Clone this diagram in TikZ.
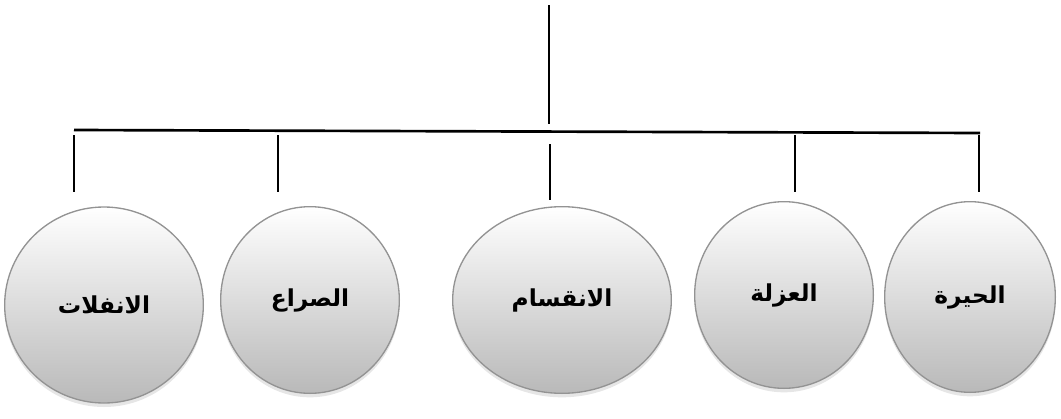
\documentclass[tikz,border=0pt]{standalone}
\usepackage{fontspec}
\newfontfamily\arabicfont[Script=Arabic]{DejaVu Sans}
\TeXXeTstate=1
\usetikzlibrary{shapes.geometric,shadows}

\begin{document}
\begin{tikzpicture}[x=0.75pt, y=-0.75pt,
  bubble/.style={ellipse, draw=gray!85, line width=1pt, inner sep=0pt,
    top color=white, bottom color=gray!55,
    drop shadow={opacity=0.2, shadow xshift=0pt, shadow yshift=-3pt},
    font=\arabicfont\bfseries\fontsize{17.5}{20}\selectfont},
  link/.style={line width=1.6pt}]
  \useasboundingbox (0,0) rectangle (1061,418);

  % the five circles
  \node[bubble, minimum width=149pt, minimum height=147pt] (infilat) at (104,305) {\beginR الانفلات\endR};
  \node[bubble, minimum width=134pt, minimum height=140pt] (siraa) at (310,300) {\beginR الصراع\endR};
  \node[bubble, minimum width=164pt, minimum height=140pt] (inqisam) at (562,300) {\beginR الانقسام\endR};
  \node[bubble, minimum width=134pt, minimum height=140pt] (uzla) at (784,295) {\beginR العزلة\endR};
  \node[bubble, minimum width=128pt, minimum height=143pt] (hira) at (970,297) {\beginR الحيرة\endR};

  % the tree lines
  \coordinate (root) at (549,5);
  \coordinate (hub) at (549,124);
  \coordinate (busL) at (74,130);
  \coordinate (busR) at (980,133);
  \draw[link] (root) -- (hub);
  \draw[line width=2pt] (busL) -- (busR);
  \foreach \x/\name in {74/infilat, 278/siraa, 795/uzla, 979/hira}
    \draw[link] (\x,135) coordinate (top-\name) -- (\x,192) coordinate (end-\name);
  \draw[link] (550,144) coordinate (top-inqisam) -- (550,200) coordinate (end-inqisam);
\end{tikzpicture}
\end{document}
